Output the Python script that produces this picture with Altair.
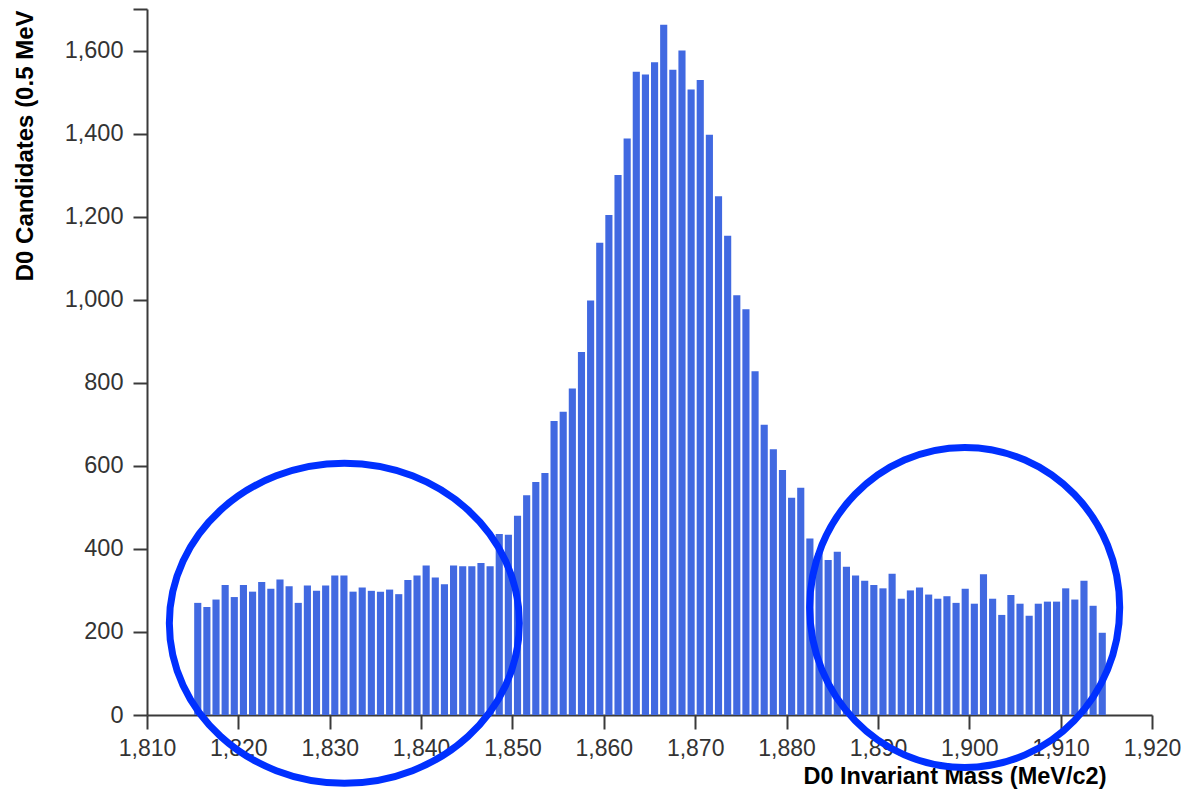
import altair as alt
import pandas as pd

# ---- data ----
BIN_START = 1815          # MeV, left edge of first bin
BIN_WIDTH = 1             # MeV
counts = [
    270, 260, 278, 313, 284, 313, 297, 320, 304, 326,
    310, 270, 312, 299, 312, 336, 336, 297, 307, 299,
    297, 302, 291, 325, 336, 360, 331, 315, 360, 358,
    358, 366, 358, 436, 434, 480, 529, 561, 583, 708,
    730, 786, 874, 998, 1137, 1204, 1300, 1388, 1549, 1542,
    1572, 1662, 1554, 1600, 1506, 1529, 1397, 1249, 1154, 1011,
    977, 828, 699, 640, 590, 523, 547, 425, 390, 373,
    393, 357, 336, 323, 313, 305, 340, 280, 300, 307,
    290, 280, 286, 270, 304, 268, 339, 280, 241, 289,
    268, 239, 268, 273, 273, 305, 278, 323, 263, 198,
]
x_ticks = [1810, 1820, 1830, 1840, 1850, 1860, 1870, 1880, 1890, 1900, 1910, 1920]
y_ticks = [0, 200, 400, 600, 800, 1000, 1200, 1400, 1600, 1700]

# annotation ellipses (centre in data units, radii in px)
ann_x = [1831.6, 1899.5]
ann_y = [221, 259]
ann_rx = [175, 155]
ann_ry = [160, 160]

lo = [BIN_START + i * BIN_WIDTH for i in range(len(counts))]
bars_df = pd.DataFrame({"lo": lo, "hi": [v + BIN_WIDTH for v in lo], "count": counts})


def ellipse_path(rx, ry):
    return (f"M {-rx} 0 A {rx} {ry} 0 1 0 {rx} 0 "
            f"A {rx} {ry} 0 1 0 {-rx} 0 Z")


ann_df = pd.DataFrame({
    "x": ann_x,
    "y": ann_y,
    "path": [ellipse_path(a, b) for a, b in zip(ann_rx, ann_ry)],
})

FONT = "Liberation Sans"
AXIS_COLOR = "#3a3a3a"

x_scale = alt.Scale(domain=[1810, 1920], nice=False, zero=False)
y_scale = alt.Scale(domain=[0, 1700], nice=False)

x_axis = alt.Axis(
    values=x_ticks, format=",d", grid=False,
    title="D0 Invariant Mass (MeV/c2)",
    titleX=959, titleY=61, titleAlign="right", titleBaseline="middle",
    titleFont=FONT, titleFontSize=23.5, titleFontWeight="bold", titleColor="#000",
    labelFont=FONT, labelFontSize=23, labelColor="#333",
    labelPadding=8, tickSize=14, tickWidth=2, tickColor=AXIS_COLOR,
    domainWidth=2, domainColor=AXIS_COLOR, labelFlush=False,
)
y_axis = alt.Axis(
    values=y_ticks, format=",d", grid=False,
    labelExpr="datum.value == 1700 ? '' : datum.label",
    title="D0 Candidates (0.5 MeV",
    titleAngle=-90, titleX=-122, titleY=1, titleAlign="right", titleBaseline="middle",
    titleFont=FONT, titleFontSize=24, titleFontWeight="bold", titleColor="#000",
    labelFont=FONT, labelFontSize=23.5, labelColor="#333",
    labelPadding=10, tickSize=14, tickWidth=2, tickColor=AXIS_COLOR,
    domainWidth=2, domainColor=AXIS_COLOR, labelFlush=False,
)

bars = alt.Chart(bars_df).mark_bar(color="#4169E1", binSpacing=2).encode(
    x=alt.X("lo:Q", bin="binned", scale=x_scale, axis=x_axis),
    x2="hi:Q",
    y=alt.Y("count:Q", scale=y_scale, axis=y_axis),
)

rings = alt.Chart(ann_df).mark_point(
    filled=False, stroke="#0030ff", strokeWidth=7, opacity=1, size=4
).encode(
    x=alt.X("x:Q", scale=x_scale),
    y=alt.Y("y:Q", scale=y_scale),
    shape=alt.Shape("path:N", scale=None),
)

chart = alt.layer(bars, rings).properties(
    width=1005, height=706,
    autosize=alt.AutoSizeParams(type="none"),
    padding={"left": 139, "top": 1, "right": 29, "bottom": 75},
).configure_view(stroke=None)

chart.save("out.html", embed_options={"renderer": "svg", "actions": False})
